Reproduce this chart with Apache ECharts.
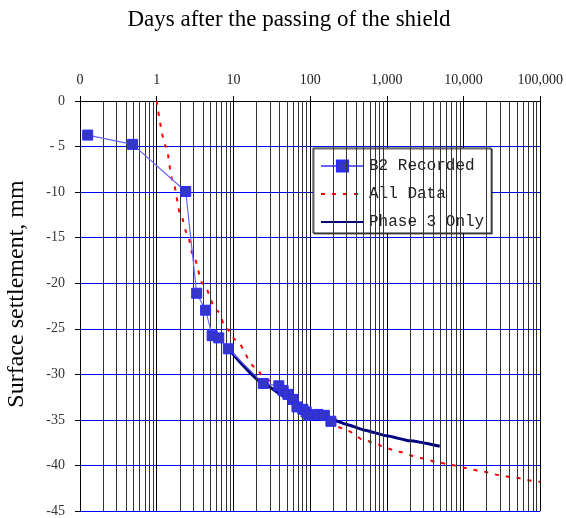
<!DOCTYPE html>
<html>
<head>
<meta charset="utf-8">
<script src="https://cdn.jsdelivr.net/npm/echarts@6/dist/echarts.min.js"></script>
<style>html,body{margin:0;padding:0;background:#fff;}#c{width:566px;height:518px;}</style>
</head>
<body>
<div id="c"></div>
<script>
const chartTitle = 'Days after the passing of the shield';
const yAxisTitle = 'Surface settlement, mm';
const xTickLabels = ['0', '1', '10', '100', '1,000', '10,000', '100,000'];
const yTickLabels = ['0', '- 5', '-10', '-15', '-20', '-25', '-30', '-35', '-40', '-45'];
const seriesNames = ['B2 Recorded', 'All Data', 'Phase 3 Only'];

const b2Days   = [0.126, 0.485, 2.39, 3.32, 4.34, 5.28, 6.44, 8.59, 24.5, 39.1, 44.5, 51.5, 59.8, 67.4, 80.5, 88.8, 96.2, 125.8, 153.4, 186.7];
const b2Settle = [-3.74, -4.76, -9.93, -21.1, -22.96, -25.76, -26.0, -27.2, -31.0, -31.26, -31.77, -32.2, -32.75, -33.58, -33.84, -34.13, -34.5, -34.4, -34.5, -35.15];

const allDays   = [1.0, 1.32, 1.61, 2.06, 2.5, 3.0, 4.0, 6.1, 8.24, 10.6, 19.2, 25.8, 50, 100, 227, 306, 503, 712, 1000, 1400, 2830, 4650, 6930, 9900, 18600, 29000, 43500, 85000, 100000];
const allSettle = [0, -5, -8.7, -12.5, -14.6, -17.0, -20.05, -23.0, -25.03, -26.2, -29.2, -30.5, -32.2, -33.95, -35.77, -36.2, -37.2, -37.6, -38.13, -38.5, -39.2, -39.66, -39.95, -40.24, -40.7, -41.05, -41.3, -41.7, -41.8];

const p3Days   = [8.59, 24.5, 50, 100, 200, 300, 503, 1000, 2000, 4900];
const p3Settle = [-27.2, -31.0, -32.6, -34.0, -35.0, -35.5, -36.1, -36.75, -37.3, -37.9];

const decades = [0.1, 1, 10, 100, 1000, 10000];
const minorMultipliers = [2, 3, 4, 5, 6, 7, 8, 9];
const minorGrid = [];
decades.forEach(d => minorMultipliers.forEach(m => minorGrid.push({ xAxis: +(d * m).toPrecision(6) })));

const zip = (xs, ys) => xs.map((x, i) => [x, ys[i]]);
const serif = 'Liberation Serif';

const chart = echarts.init(document.getElementById('c'));
chart.setOption({
  animation: false,
  backgroundColor: '#fff',
  grid: { left: 80, right: 22, top: 101, height: 412 },
  graphic: [
    { type: 'text', x: 289, y: 20, style: { text: chartTitle, font: '23px "Liberation Serif"', fill: '#000', textAlign: 'center', textVerticalAlign: 'middle' } },
    { type: 'text', x: 17, y: 294, rotation: Math.PI / 2, style: { text: yAxisTitle, font: '24px "Liberation Serif"', fill: '#000', textAlign: 'center', textVerticalAlign: 'middle' } }
  ],
  legend: {
    data: [
      { name: seriesNames[0] },
      { name: seriesNames[1], itemStyle: { opacity: 0 } },
      { name: seriesNames[2], itemStyle: { opacity: 0 } }
    ],
    orient: 'vertical',
    left: 313, top: 148,
    padding: [10, 7, 3, 7],
    itemWidth: 43, itemHeight: 14, itemGap: 12,
    backgroundColor: '#fff',
    borderColor: '#222', borderWidth: 1,
    shadowColor: 'rgba(0,0,0,0.6)', shadowOffsetX: 1, shadowOffsetY: 1, shadowBlur: 0,
    textStyle: { fontFamily: 'Liberation Mono', fontSize: 16, color: '#222' }
  },
  xAxis: {
    type: 'log', logBase: 10, position: 'top',
    min: 0.1, max: 100000, interval: 1,
    axisLine: { show: true, lineStyle: { color: '#000', width: 1 } },
    axisTick: { show: true, inside: false, length: 5, lineStyle: { color: '#000' } },
    axisLabel: {
      margin: 14, fontFamily: serif, fontSize: 14, color: '#222',
      formatter: v => xTickLabels[Math.round(Math.log10(v)) + 1]
    },
    splitLine: { show: true, lineStyle: { color: '#000', width: 1 } }
  },
  yAxis: {
    type: 'value', min: -45, max: 0, interval: 5,
    axisLine: { show: true, onZero: false, lineStyle: { color: '#000', width: 1 } },
    axisTick: { show: true, length: 5, lineStyle: { color: '#000' } },
    axisLabel: {
      margin: 15, fontFamily: serif, fontSize: 14, color: '#333',
      formatter: v => yTickLabels[Math.round(-v / 5)]
    },
    splitLine: { show: true, lineStyle: { color: '#0000ff', width: 1 } }
  },
  series: [
    {
      name: 'grid', type: 'line', data: [], silent: true, z: 1,
      markLine: {
        silent: true, symbol: ['none', 'none'], label: { show: false },
        lineStyle: { color: '#333', width: 1, type: 'solid' },
        emphasis: { disabled: true },
        data: minorGrid
      }
    },
    {
      name: 'All Data', type: 'line', data: zip(allDays, allSettle), z: 3,
      showSymbol: false, symbol: 'none', smooth: 0.3, smoothMonotone: 'x',
      lineStyle: { color: '#ff0000', width: 2, type: [4, 7] },
      itemStyle: { color: '#ff0000' }
    },
    {
      name: 'Phase 3 Only', type: 'line', data: zip(p3Days, p3Settle), z: 4,
      showSymbol: false, symbol: 'none', smooth: 0.15, smoothMonotone: 'x',
      lineStyle: { color: '#000080', width: 3 },
      itemStyle: { color: '#000080' }
    },
    {
      name: 'B2 Recorded', type: 'line', data: zip(b2Days, b2Settle), z: 5,
      symbol: 'rect', symbolSize: 10, showAllSymbol: true,
      lineStyle: { color: '#6666ff', width: 1.2 },
      itemStyle: { color: '#3535c8', borderColor: '#2a2aff', borderWidth: 1 }
    }
  ]
});
</script>
</body>
</html>
